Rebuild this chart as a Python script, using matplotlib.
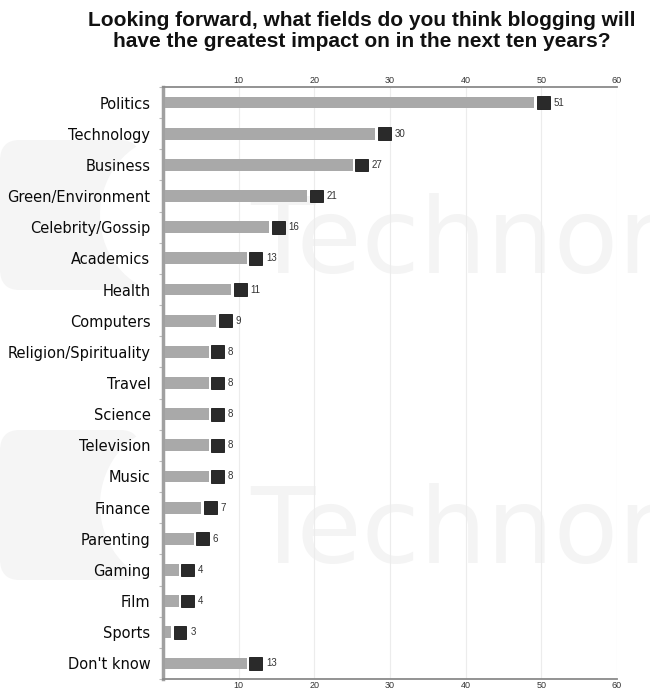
import numpy as np
import matplotlib
matplotlib.use('Agg')
import matplotlib.pyplot as plt
from matplotlib.patches import FancyBboxPatch, Circle

# survey answers, top to bottom
fields = ['Politics', 'Technology', 'Business', 'Green/Environment',
          'Celebrity/Gossip', 'Academics', 'Health', 'Computers',
          'Religion/Spirituality', 'Travel', 'Science', 'Television',
          'Music', 'Finance', 'Parenting', 'Gaming', 'Film', 'Sports',
          "Don't know"]
percent = [51, 30, 27, 21, 16, 13, 11, 9, 8, 8, 8, 8, 8, 7, 6, 4, 4, 3, 13]
xticks = [10, 20, 30, 40, 50, 60]

plt.rcParams['font.family'] = ['Liberation Sans', 'DejaVu Sans']

W, H = 650, 693
fig = plt.figure(figsize=(W / 100, H / 100), dpi=100)


def px(x, y):
    """figure-pixel (top-left origin) -> figure fraction"""
    return x / W, 1 - y / H


# faint watermark behind the chart
for y0 in (140, 430):
    fig.patches.append(FancyBboxPatch(px(0, y0 + 150), 140 / W, 150 / H,
                                      boxstyle='round,pad=0,rounding_size=0.03',
                                      transform=fig.transFigure,
                                      fc='#f5f5f5', ec='none', zorder=0))
    fig.patches.append(Circle(px(175, y0 + 75), 75 / W, transform=fig.transFigure,
                              fc='white', ec='none', zorder=0))
    fig.text(*px(250, y0 + 133), 'Technora', fontsize=76, color='#f4f4f4',
             family='DejaVu Sans', ha='left', va='baseline', zorder=0)

fig.text(*px(362, 31), 'Looking forward, what fields do you think blogging will\n'
         'have the greatest impact on in the next ten years?',
         ha='center', va='center', fontsize=15, fontweight='bold',
         color='#111111', linespacing=1.12)

left, right, top, bottom = 163, 617, 87, 679
ax = fig.add_axes([left / W, 1 - bottom / H, (right - left) / W, (bottom - top) / H])
ax.set_facecolor('none')
ax.set_zorder(2)

y = np.arange(len(fields))
vals = np.array(percent, dtype=float)
sq_w = 1.7
ax.barh(y, vals - sq_w - 0.25 - 0.3, left=0.3, height=0.38,
        color='#a9a9a9', edgecolor='none', zorder=3)
ax.barh(y, np.full_like(vals, sq_w), left=vals - sq_w + 0.1, height=0.41,
        color='#2a2a2a', edgecolor='#151515', linewidth=0.6, zorder=4)
for yi, v in zip(y, percent):
    ax.text(v + 0.6, yi, str(v), fontsize=7, color='#333333',
            ha='left', va='center', zorder=5)

ax.set_xlim(0, 60)
ax.set_ylim(len(fields) - 1 + 0.42, -0.35)
ax.set_yticks(y)
ax.set_yticklabels(fields, fontsize=10.5, color='#0a0a0a', family='DejaVu Sans')
ax.tick_params(axis='y', length=0, pad=9)
ax.set_yticks(np.arange(len(fields) + 1) - 0.5, minor=True)
ax.tick_params(axis='y', which='minor', length=3, color='#bbbbbb', width=0.8)

ax.set_xticks(xticks)
ax.set_xticklabels([str(t) for t in xticks], fontsize=6.5, color='#333333')
ax.tick_params(axis='x', length=0, pad=1.5, labeltop=True, top=False)
ax.grid(axis='x', color='#ececec', linewidth=0.8, zorder=0)

for side in ('top', 'bottom'):
    ax.spines[side].set_color('#8a8a8a')
    ax.spines[side].set_linewidth(1.3)
ax.spines['left'].set_color('#a0a0a0')
ax.spines['left'].set_linewidth(2.5)
ax.spines['right'].set_visible(False)

fig.savefig('out.png', dpi=100)
